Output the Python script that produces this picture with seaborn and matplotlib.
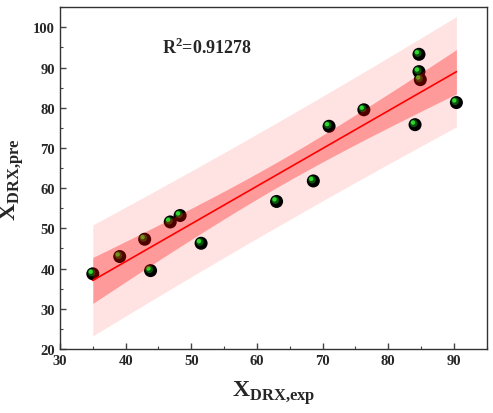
import numpy as np
import pandas as pd
import matplotlib
matplotlib.use('Agg')
import matplotlib.pyplot as plt
import matplotlib.transforms as mtransforms
from matplotlib.ticker import MultipleLocator
import seaborn as sns

# valores
x_exp = [35.0, 39.1, 42.9, 43.8, 46.8, 48.3, 51.5, 63.0, 68.6, 71.0, 76.3, 84.1, 84.7, 84.7, 84.9, 90.4]
x_pre = [38.7, 43.0, 47.3, 39.5, 51.6, 53.2, 46.3, 56.7, 61.8, 75.4, 79.5, 75.8, 93.3, 89.0, 87.0, 81.3]
r2_txt = 'R$^{\\mathbf{2}}$=0.91278'

df = pd.DataFrame({'exp': x_exp, 'pre': x_pre})

# %% ajuste linear + bandas de confianca e predicao (95%)
x = df['exp'].to_numpy()
y = df['pre'].to_numpy()
n = len(x)
b1, b0 = np.polyfit(x, y, 1)
res = y - (b0 + b1 * x)
s = np.sqrt((res ** 2).sum() / (n - 2))
sxx = ((x - x.mean()) ** 2).sum()
t = 2.1448  # t(0.975, 14)
xx = np.linspace(x.min(), x.max(), 200)
yy = b0 + b1 * xx
h = 1 / n + (xx - x.mean()) ** 2 / sxx
ci = t * s * np.sqrt(h)
pi = t * s * np.sqrt(1 + h)
fit = pd.DataFrame({'exp': xx, 'pre': yy})

# %%
sns.set_style('ticks')
plt.rcParams['font.family'] = ['Liberation Serif', 'DejaVu Serif']
plt.rcParams['font.weight'] = 'bold'
plt.rcParams['mathtext.fontset'] = 'custom'
plt.rcParams['mathtext.rm'] = 'Liberation Serif'
plt.rcParams['mathtext.bf'] = 'Liberation Serif:bold'

fig = plt.figure(figsize=(4.93, 4.14), dpi=100)
ax = fig.add_axes([0.1217, 0.1546, 0.8653, 0.8254])

ax.fill_between(xx, yy - pi, yy + pi, color='#ffe3e3', lw=0, zorder=1)

sns.scatterplot(data=df, x='exp', y='pre', ax=ax, s=88, color='black',
                edgecolor='none', zorder=2)
off1 = mtransforms.offset_copy(ax.transData, fig=fig, x=-0.9, y=0.9, units='points')
off2 = mtransforms.offset_copy(ax.transData, fig=fig, x=-1.5, y=1.5, units='points')
ax.scatter(x, y, s=30, color='#0b500b', edgecolor='none', zorder=2.1, transform=off1)
ax.scatter(x, y, s=10, color='#2ed82e', edgecolor='none', zorder=2.2, transform=off2)

ax.fill_between(xx, yy - ci, yy + ci, color='red', alpha=0.32, lw=0, zorder=3)
sns.lineplot(data=fit, x='exp', y='pre', ax=ax, color='red', lw=1.2, zorder=4)

ax.set_xlim(30, 95)
ax.set_ylim(20, 105)
ax.xaxis.set_minor_locator(MultipleLocator(5))
ax.yaxis.set_minor_locator(MultipleLocator(5))
ax.set_xticks(range(30, 91, 10))
ax.set_yticks(range(20, 101, 10))
ax.tick_params(which='both', direction='in', top=False, right=False, labelsize=10.5, color='#444444')
ax.tick_params(which='major', length=4, width=1)
ax.tick_params(which='minor', length=2, width=0.8)
for lab in ax.get_xticklabels() + ax.get_yticklabels():
    lab.set_fontweight('bold')
for sp in ax.spines.values():
    sp.set_linewidth(1)
    sp.set_color('#333333')

ax.set_xlabel(r'$\mathbf{X}_{\mathbf{DRX{,}exp}}$', fontsize=17, labelpad=8)
ax.set_ylabel(r'$\mathbf{X}_{\mathbf{DRX{,}pre}}$', fontsize=17, labelpad=5)

ax.text(0.238, 0.865, r2_txt, transform=ax.transAxes, fontsize=13, fontweight='bold')

fig.savefig('out.png', dpi=100)
